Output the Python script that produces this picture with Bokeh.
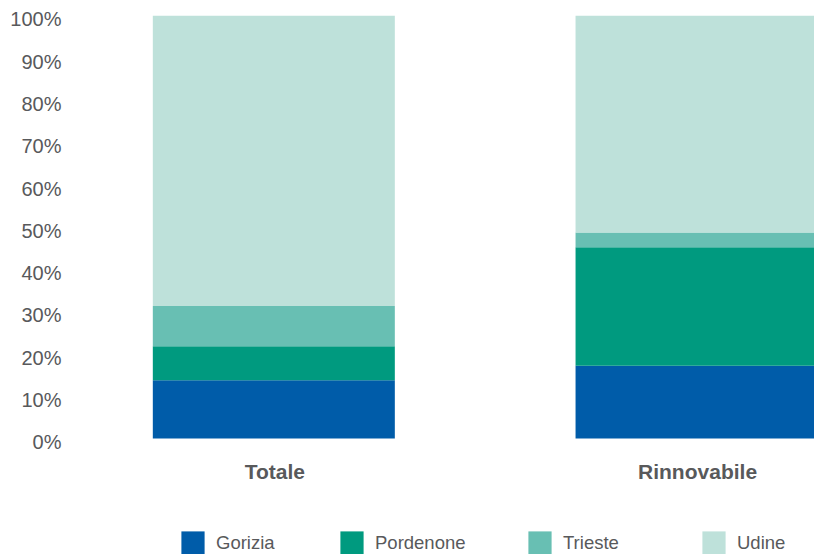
from bokeh.plotting import figure
from bokeh.models import (Range1d, FixedTicker, PrintfTickFormatter, Legend,
                          LegendItem, ColumnDataSource, LabelSet, LinearAxis)
from bokeh.core.properties import value
from bokeh.embed import file_html
from bokeh.resources import INLINE

# ---- data (percent shares) ----
categories = ["Totale", "Rinnovabile"]
provinces = ["Gorizia", "Pordenone", "Trieste", "Udine"]
gorizia = [13.8, 17.2]
pordenone = [8.0, 28.0]
trieste = [9.5, 3.5]
udine = [68.7, 51.3]
colors = ["#005CA9", "#009A7F", "#68BFB3", "#BEE1DA"]
y_ticks = list(range(0, 101, 10))

# ---- layout ----
FONT = "Liberation Sans"
TXT = "#58595B"
legend_offsets = [113, 272, 460, 634]   # screen px from frame left
Y0, Y1 = -27.42, 100
LABEL_SHIFT = 0.9                        # tick labels sit slightly low, as in the original

x = list(range(len(categories)))
source = ColumnDataSource(dict(x=x, Gorizia=gorizia, Pordenone=pordenone,
                               Trieste=trieste, Udine=udine))
cat_source = ColumnDataSource(dict(x=x, y=[0] * len(categories), cat=categories))

p = figure(width=814, height=554, output_backend="svg", toolbar_location=None,
           x_range=Range1d(-0.4928, 1.279), y_range=Range1d(Y0, Y1),
           x_axis_location=None, y_axis_location=None,
           min_border_left=65, min_border_right=0, min_border_top=15,
           min_border_bottom=0)
p.extra_y_ranges = {"lab": Range1d(Y0 + LABEL_SHIFT, Y1 + LABEL_SHIFT)}

renderers = p.vbar_stack(provinces, x="x", width=0.5725, source=source,
                         fill_color=colors, line_color=None)

p.xgrid.visible = False
p.ygrid.visible = False
p.outline_line_color = None

ya = LinearAxis(y_range_name="lab")
ya.ticker = FixedTicker(ticks=y_ticks)
ya.formatter = PrintfTickFormatter(format="%d%%")
ya.axis_line_color = None
ya.major_tick_line_color = None
ya.minor_tick_line_color = None
ya.major_tick_out = 0
ya.major_label_standoff = 4
ya.major_label_text_font = FONT
ya.major_label_text_font_size = "20px"
ya.major_label_text_color = TXT
p.add_layout(ya, "left")

# category labels under the bars
cat_labels = LabelSet(x="x", y="y", text="cat", source=cat_source,
                      y_offset=-33, x_offset=1, text_align="center",
                      text_baseline="middle", text_font=value(FONT),
                      text_font_size=value("21px"), text_font_style="bold",
                      text_color=TXT)
p.add_layout(cat_labels)

for name, r, off in zip(provinces, renderers, legend_offsets):
    lg = Legend(items=[LegendItem(label=name, renderers=[r])],
                orientation="horizontal", location=(off, -3),
                glyph_width=29, glyph_height=29, label_standoff=9,
                padding=0, margin=0, border_line_color=None,
                background_fill_alpha=0, label_text_font=FONT,
                label_text_font_size="18.5px", label_text_color=TXT)
    p.add_layout(lg)

open("out.html", "w").write(file_html(p, INLINE))
